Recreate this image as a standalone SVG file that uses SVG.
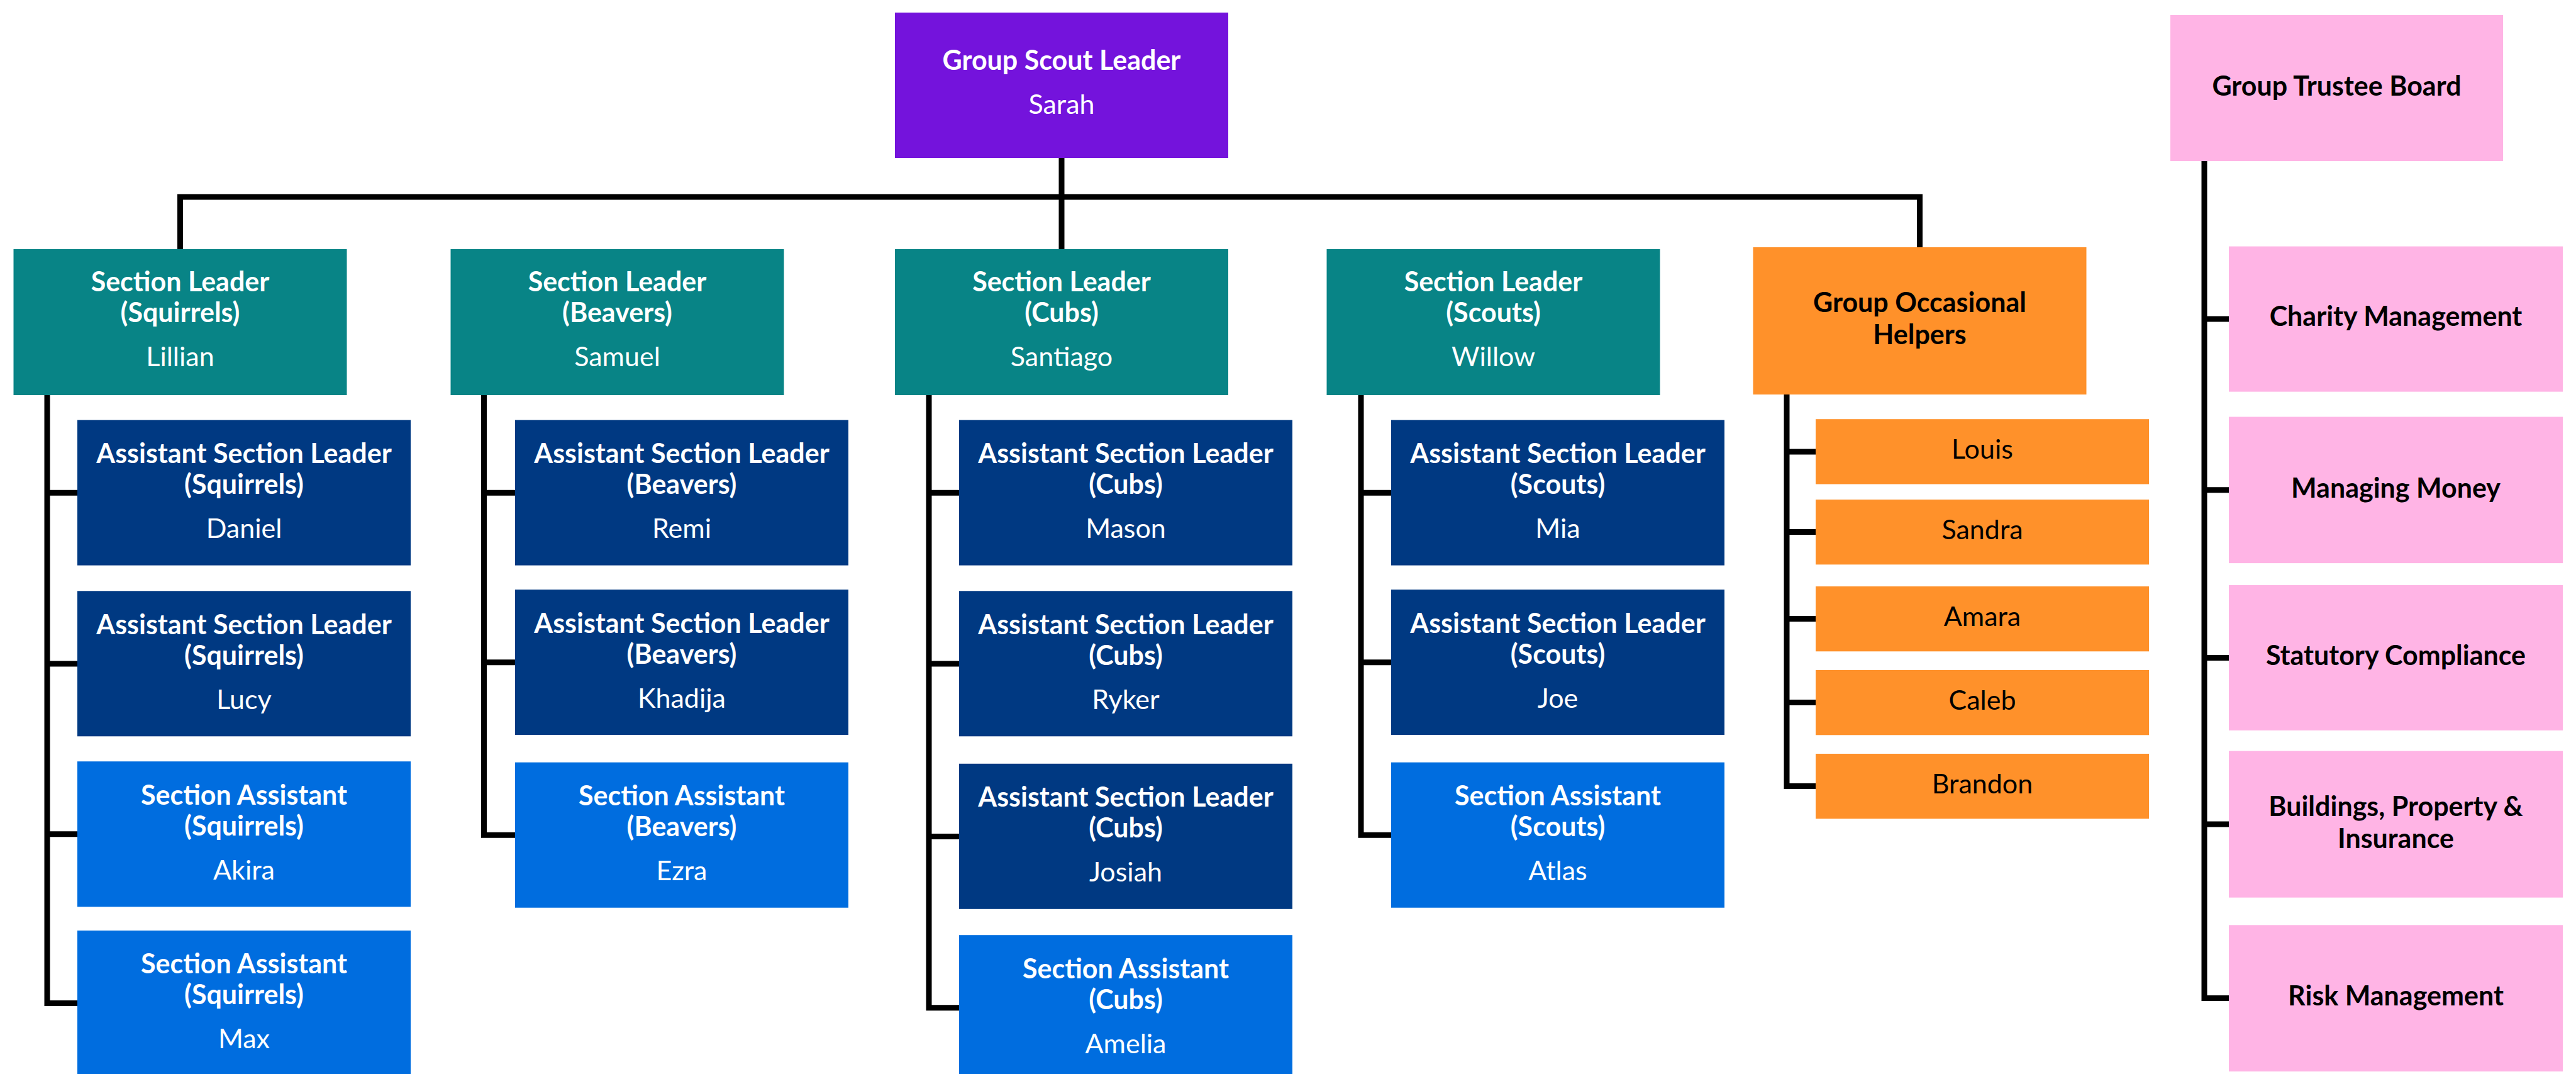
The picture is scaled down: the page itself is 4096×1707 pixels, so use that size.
<svg xmlns="http://www.w3.org/2000/svg" width="4096" height="1707" viewBox="0 0 4096 1707">
<style>
.bg{fill:#ffffff}
.purple{fill:#7413dc}
.teal{fill:#088486}
.navy{fill:#003982}
.blue{fill:#006ddf}
.orange{fill:#ff912a}
.pink{fill:#ffb4e5}
text{font-family:Lato,"Noto Sans","Liberation Sans",sans-serif;font-size:43px;text-anchor:middle}
.t{font-weight:700}
.n{font-weight:400}
.w{fill:#ffffff}
.k{fill:#000000}
.conn path{fill:none;stroke:#000000;stroke-width:9;stroke-linejoin:miter;stroke-linecap:butt}
</style>
<rect class="bg" x="0" y="0" width="4096" height="1707"/>
<g id="connectors" class="conn">
<path d="M286.5 396 V313 H3052.5 V393"/>
<path d="M1688 251 V396"/>
<path d="M75 628 V1594.6 H123 M70.5 783.2 H123 M70.5 1054.9 H123 M70.5 1325.8 H123"/>
<path d="M769.5 628 V1327.3 H819 M765 783.2 H819 M765 1052.7 H819"/>
<path d="M1477 628 V1601.8 H1525 M1472.5 783.2 H1525 M1472.5 1054.9 H1525 M1472.5 1329.4 H1525"/>
<path d="M2164 628 V1327.3 H2212 M2159.5 783.2 H2212 M2159.5 1052.7 H2212"/>
<path d="M2841 627 V1249.6 H2887 M2836.5 717.9 H2887 M2836.5 845.6 H2887 M2836.5 983.6 H2887 M2836.5 1116.6 H2887"/>
<path d="M3505 256 V1586.6 H3544 M3500.5 507 H3544 M3500.5 778.8 H3544 M3500.5 1045.4 H3544 M3500.5 1310 H3544"/>
</g>
<g id="gsl"><rect class="purple" x="1423" y="20" width="530" height="231"/><text class="t w" x="1688" y="111">Group Scout Leader</text><text class="n w" x="1688" y="181">Sarah</text></g>
<g id="sl-squirrels"><rect class="teal" x="21.5" y="396" width="530" height="232"/><text class="t w" x="286.5" y="463">Section Leader</text><text class="t w" x="286.5" y="512">(Squirrels)</text><text class="n w" x="286.5" y="582">Lillian</text></g>
<g id="sl-beavers"><rect class="teal" x="716.5" y="396" width="530" height="232"/><text class="t w" x="981.5" y="463">Section Leader</text><text class="t w" x="981.5" y="512">(Beavers)</text><text class="n w" x="981.5" y="582">Samuel</text></g>
<g id="sl-cubs"><rect class="teal" x="1423" y="396" width="530" height="232"/><text class="t w" x="1688" y="463">Section Leader</text><text class="t w" x="1688" y="512">(Cubs)</text><text class="n w" x="1688" y="582">Santiago</text></g>
<g id="sl-scouts"><rect class="teal" x="2109.5" y="396" width="530" height="232"/><text class="t w" x="2374.5" y="463">Section Leader</text><text class="t w" x="2374.5" y="512">(Scouts)</text><text class="n w" x="2374.5" y="582">Willow</text></g>
<g id="goh"><rect class="orange" x="2787.5" y="393" width="530" height="234"/><text class="t k" x="3052.5" y="496">Group Occasional</text><text class="t k" x="3052.5" y="547">Helpers</text></g>
<g id="trustee"><rect class="pink" x="3451" y="24" width="529" height="232"/><text class="t k" x="3715.5" y="152">Group Trustee Board</text></g>

<g id="asl-daniel"><rect class="navy" x="123" y="667.6" width="530" height="231"/><text class="t w" x="388" y="736">Assistant Section Leader</text><text class="t w" x="388" y="785">(Squirrels)</text><text class="n w" x="388" y="855">Daniel</text></g>
<g id="asl-lucy"><rect class="navy" x="123" y="939.3" width="530" height="231"/><text class="t w" x="388" y="1007.7">Assistant Section Leader</text><text class="t w" x="388" y="1056.7">(Squirrels)</text><text class="n w" x="388" y="1126.7">Lucy</text></g>
<g id="sa-akira"><rect class="blue" x="123" y="1210.2" width="530" height="231"/><text class="t w" x="388" y="1278.6">Section Assistant</text><text class="t w" x="388" y="1327.6">(Squirrels)</text><text class="n w" x="388" y="1397.6">Akira</text></g>
<g id="sa-max"><rect class="blue" x="123" y="1479" width="530" height="232"/><text class="t w" x="388" y="1547.4">Section Assistant</text><text class="t w" x="388" y="1596.4">(Squirrels)</text><text class="n w" x="388" y="1666.4">Max</text></g>

<g id="asl-remi"><rect class="navy" x="819" y="667.6" width="530" height="231"/><text class="t w" x="1084" y="736">Assistant Section Leader</text><text class="t w" x="1084" y="785">(Beavers)</text><text class="n w" x="1084" y="855">Remi</text></g>
<g id="asl-khadija"><rect class="navy" x="819" y="937.1" width="530" height="231"/><text class="t w" x="1084" y="1005.5">Assistant Section Leader</text><text class="t w" x="1084" y="1054.5">(Beavers)</text><text class="n w" x="1084" y="1124.5">Khadija</text></g>
<g id="sa-ezra"><rect class="blue" x="819" y="1211.7" width="530" height="231"/><text class="t w" x="1084" y="1280.1">Section Assistant</text><text class="t w" x="1084" y="1329.1">(Beavers)</text><text class="n w" x="1084" y="1399.1">Ezra</text></g>

<g id="asl-mason"><rect class="navy" x="1525" y="667.6" width="530" height="231"/><text class="t w" x="1790" y="736">Assistant Section Leader</text><text class="t w" x="1790" y="785">(Cubs)</text><text class="n w" x="1790" y="855">Mason</text></g>
<g id="asl-ryker"><rect class="navy" x="1525" y="939.3" width="530" height="231"/><text class="t w" x="1790" y="1007.7">Assistant Section Leader</text><text class="t w" x="1790" y="1056.7">(Cubs)</text><text class="n w" x="1790" y="1126.7">Ryker</text></g>
<g id="asl-josiah"><rect class="navy" x="1525" y="1213.8" width="530" height="231"/><text class="t w" x="1790" y="1282.2">Assistant Section Leader</text><text class="t w" x="1790" y="1331.2">(Cubs)</text><text class="n w" x="1790" y="1401.2">Josiah</text></g>
<g id="sa-amelia"><rect class="blue" x="1525" y="1486.2" width="530" height="232"/><text class="t w" x="1790" y="1554.6">Section Assistant</text><text class="t w" x="1790" y="1603.6">(Cubs)</text><text class="n w" x="1790" y="1673.6">Amelia</text></g>

<g id="asl-mia"><rect class="navy" x="2212" y="667.6" width="530" height="231"/><text class="t w" x="2477" y="736">Assistant Section Leader</text><text class="t w" x="2477" y="785">(Scouts)</text><text class="n w" x="2477" y="855">Mia</text></g>
<g id="asl-joe"><rect class="navy" x="2212" y="937.1" width="530" height="231"/><text class="t w" x="2477" y="1005.5">Assistant Section Leader</text><text class="t w" x="2477" y="1054.5">(Scouts)</text><text class="n w" x="2477" y="1124.5">Joe</text></g>
<g id="sa-atlas"><rect class="blue" x="2212" y="1211.7" width="530" height="231"/><text class="t w" x="2477" y="1280.1">Section Assistant</text><text class="t w" x="2477" y="1329.1">(Scouts)</text><text class="n w" x="2477" y="1399.1">Atlas</text></g>

<g id="h-louis"><rect class="orange" x="2887" y="666.2" width="530" height="103.3"/><text class="n k" x="3152" y="729.2">Louis</text></g>
<g id="h-sandra"><rect class="orange" x="2887" y="794" width="530" height="103.3"/><text class="n k" x="3152" y="857">Sandra</text></g>
<g id="h-amara"><rect class="orange" x="2887" y="932" width="530" height="103.3"/><text class="n k" x="3152" y="995">Amara</text></g>
<g id="h-caleb"><rect class="orange" x="2887" y="1065" width="530" height="103.3"/><text class="n k" x="3152" y="1128">Caleb</text></g>
<g id="h-brandon"><rect class="orange" x="2887" y="1198" width="530" height="103.3"/><text class="n k" x="3152" y="1261">Brandon</text></g>

<g id="tb-charity"><rect class="pink" x="3544" y="391.6" width="531" height="231"/><text class="t k" x="3809.5" y="518.4">Charity Management</text></g>
<g id="tb-money"><rect class="pink" x="3544" y="662.5" width="531" height="232.6"/><text class="t k" x="3809.5" y="790.5">Managing Money</text></g>
<g id="tb-compliance"><rect class="pink" x="3544" y="929.9" width="531" height="231"/><text class="t k" x="3809.5" y="1057.2">Statutory Compliance</text></g>
<g id="tb-buildings"><rect class="pink" x="3544" y="1193.6" width="531" height="233"/><text class="t k" x="3809.5" y="1297.4">Buildings, Property &amp;</text><text class="t k" x="3809.5" y="1347.6">Insurance</text></g>
<g id="tb-risk"><rect class="pink" x="3544" y="1470.3" width="531" height="232.6"/><text class="t k" x="3809.5" y="1598.3">Risk Management</text></g>
</svg>
